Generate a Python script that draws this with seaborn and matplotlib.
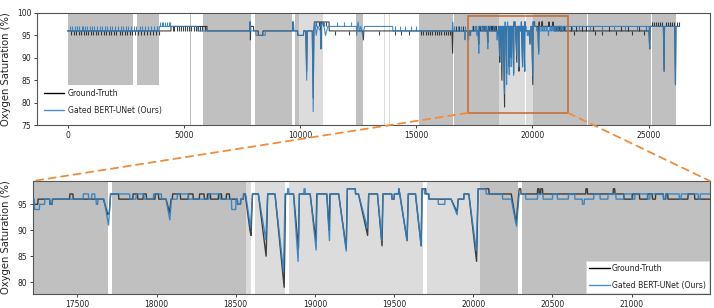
import numpy as np
import pandas as pd
import seaborn as sns
import matplotlib.pyplot as plt
from matplotlib.patches import Rectangle, ConnectionPatch
from matplotlib.lines import Line2D

# ---- data (x = sample index, y = SpO2 %) ----

# ground-truth keypoints (x, y)
gt_points = [
    (0, 96), (4450, 96), (4451, 97), (6000, 97), (6001, 96),
    (7830, 96), (7840, 98), (7860, 98), (7870, 94), (7880, 97), (8000, 97), (8010, 96),
    (8200, 96), (8210, 95), (8400, 95), (8410, 96),
    (9680, 96), (9690, 98), (9720, 98), (9730, 96), (9900, 96), (9910, 95), (10150, 95), (10160, 96),
    (10250, 96), (10290, 87), (10310, 96),
    (10530, 96), (10570, 81), (10600, 96), (10620, 98), (10880, 98), (10900, 92), (10920, 98),
    (11250, 98), (11260, 96), (12700, 96), (12730, 94), (12750, 96),
    (16540, 96), (16570, 91), (16590, 96),
    # zoomed window
    (17220, 96), (17222, 95), (17250, 95), (17252, 96), (17325, 96), (17327, 95), (17341, 95), (17343, 96),
    (17451, 96), (17453, 97), (17472, 97), (17474, 96),
    (17665, 96), (17692, 93), (17702, 93.5), (17710, 97), (17760, 97), (17762, 96),
    (17850, 96), (17852, 97), (17880, 97), (17882, 96), (17915, 96), (17917, 97), (17935, 97), (17937, 96),
    (17990, 96), (17992, 97), (18012, 97), (18014, 96),
    (18060, 96), (18082, 93.4), (18092, 96),
    (18100, 96), (18102, 97), (18150, 97), (18152, 96), (18200, 96), (18202, 97), (18230, 97), (18232, 96),
    (18270, 96), (18272, 97), (18300, 97), (18302, 96), (18320, 96), (18322, 97), (18340, 97), (18342, 96),
    (18390, 96), (18392, 97), (18410, 97), (18412, 96), (18440, 96), (18442, 97), (18460, 97), (18462, 96),
    (18510, 96), (18512, 95), (18530, 95), (18532, 96), (18548, 96), (18550, 97), (18560, 97),
    (18590, 90), (18597, 89), (18606, 97),
    (18643, 97), (18692, 85), (18702, 97), (18748, 97), (18806, 79), (18815, 97),
    (18865, 97), (18896, 86.5), (18902, 97), (18970, 97), (19006, 88), (19012, 97),
    (19075, 97), (19090, 90), (19095, 97), (19150, 97), (19198, 86.5), (19205, 98), (19255, 98), (19257, 97),
    (19275, 97), (19333, 89), (19340, 97), (19395, 97), (19424, 87), (19430, 97),
    (19485, 97), (19487, 96), (19500, 96), (19502, 97), (19528, 97), (19530, 98), (19536, 97),
    (19582, 88), (19590, 97), (19635, 97), (19671, 87), (19677, 98), (19700, 98), (19702, 97),
    (19719, 97), (19721, 96), (19860, 96), (19898, 93.5), (19905, 96), (19940, 96), (19942, 97),
    (19972, 97), (20021, 84), (20031, 98), (20098, 98), (20100, 97), (20240, 97), (20271, 91.4),
    (20290, 98), (20300, 98), (20302, 97),
    (20405, 97), (20407, 98), (20415, 98), (20417, 97), (20425, 97), (20427, 98), (20437, 98), (20439, 97),
    (20710, 97), (20712, 98), (20720, 98), (20722, 97), (20883, 97), (20885, 98), (20893, 98), (20895, 97),
    (20950, 97), (20952, 96), (21005, 96), (21007, 97), (21049, 97), (21051, 96),
    (21100, 96), (21102, 97), (21130, 97), (21132, 96), (21150, 96), (21152, 97), (21200, 97), (21202, 96),
    (21215, 96), (21217, 97), (21228, 97), (21230, 96), (21355, 96), (21357, 97), (21397, 97), (21399, 96),
    (21500, 96),
    # after the window
    (25020, 96), (25050, 92), (25070, 97), (25640, 97), (25670, 87), (25690, 97),
    (26130, 97), (26160, 84), (26180, 97), (26330, 97),
]

# prediction keypoints (x, y)
pred_points = [
    (0, 96), (3940, 96), (3950, 97), (5600, 97), (5610, 96),
    (7830, 96), (7840, 98), (7860, 98), (7875, 96), (8100, 96), (8110, 95), (8500, 95), (8510, 96),
    (9680, 96), (9690, 98), (9720, 98), (9730, 96), (9900, 96), (9910, 95), (10150, 95), (10160, 96),
    (10250, 96), (10290, 85), (10310, 96),
    (10530, 96), (10570, 78), (10600, 96), (10640, 98), (10700, 95), (10760, 97), (10880, 96),
    (10900, 92), (10920, 97), (11000, 98), (11100, 95), (11200, 97),
    (12430, 97), (12440, 95), (12500, 98), (12560, 96), (12620, 97), (12700, 95), (12780, 97),
    (13990, 97), (14000, 96), (16560, 96), (16570, 98), (16600, 96), (17080, 96), (17100, 94), (17120, 96),
    # zoomed window
    (17220, 96), (17228, 96), (17230, 94), (17260, 94), (17262, 95), (17293, 95), (17295, 96),
    (17325, 96), (17327, 95), (17341, 95), (17343, 96),
    (17536, 96), (17538, 97), (17570, 97), (17572, 96), (17590, 96), (17592, 97), (17610, 97), (17612, 96),
    (17618, 96), (17620, 95), (17628, 95), (17630, 96),
    (17668, 96), (17697, 91), (17710, 97), (17830, 97), (17832, 96), (17870, 96), (17872, 97), (17920, 97),
    (17922, 96), (17980, 96), (17982, 97), (18030, 97), (18032, 96),
    (18060, 96), (18084, 92), (18094, 96), (18130, 96), (18132, 97), (18200, 97), (18202, 96),
    (18330, 96), (18332, 97), (18400, 97), (18402, 96),
    (18473, 96), (18475, 94), (18500, 94), (18502, 96), (18510, 96), (18512, 95), (18530, 95), (18532, 96),
    (18548, 96), (18550, 97), (18562, 97), (18594, 90.5), (18606, 97),
    (18643, 97), (18690, 88.2), (18702, 97), (18748, 97), (18802, 82), (18812, 97),
    (18826, 97), (18828, 98), (18834, 98), (18836, 97), (18865, 97), (18894, 84), (18902, 97),
    (18930, 97), (18932, 98), (18938, 98), (18940, 97), (18970, 97), (19008, 86.2), (19014, 97),
    (19075, 97), (19092, 88), (19098, 97), (19150, 97), (19198, 86), (19205, 98), (19255, 98), (19257, 97),
    (19275, 97), (19331, 90.5), (19340, 97), (19395, 97), (19422, 88), (19430, 97),
    (19485, 97), (19487, 96), (19500, 96), (19502, 97), (19528, 97), (19530, 98), (19536, 97),
    (19582, 88), (19590, 97), (19635, 97), (19671, 87), (19677, 98), (19690, 98), (19692, 97),
    (19719, 97), (19721, 96), (19778, 96), (19780, 95), (19820, 95), (19822, 96),
    (19860, 96), (19898, 93), (19905, 96), (19940, 96), (19942, 97), (19972, 97), (20019, 86),
    (20031, 98), (20080, 98), (20082, 97), (20184, 97), (20186, 96), (20240, 96), (20273, 90.8),
    (20290, 97), (20330, 97), (20332, 96), (20405, 96), (20407, 97), (20440, 97), (20442, 96),
    (20500, 96), (20502, 97), (20530, 97), (20532, 96), (20600, 96), (20602, 97), (20640, 97), (20642, 96),
    (20688, 96), (20690, 95), (20700, 95), (20702, 96), (20760, 96), (20762, 97), (20800, 97), (20802, 96),
    (20850, 96), (20852, 97), (20900, 97), (20902, 96), (20950, 96), (20952, 97), (21000, 97), (21002, 96),
    (21020, 96), (21022, 97), (21100, 97), (21102, 96), (21115, 96), (21117, 97), (21200, 97), (21202, 96),
    (21215, 96), (21217, 97), (21300, 97), (21302, 96), (21312, 96), (21314, 97), (21420, 97), (21422, 96),
    (21432, 96), (21434, 97), (21500, 97),
    # after the window
    (25020, 97), (25050, 92), (25070, 97), (25640, 97), (25670, 87), (25690, 97),
    (26130, 97), (26160, 84), (26180, 97), (26330, 97),
]

# short one-sample blips only visible in the overview (x positions)
gt_blips_95 = [150, 260, 380, 470, 560, 700, 790, 880, 1010, 1100, 1230, 1320, 1450, 1560, 1650,
               1780, 1870, 1990, 2100, 2240, 2330, 2450, 2560, 2690, 2780, 2900, 3050, 3180, 3300,
               3420, 3560, 3680, 3800, 3920, 11500, 12100, 13400, 14100, 14350, 14700,
               15200, 15310, 15420, 15500, 15600, 15690, 15800, 15880, 15990, 16080, 16180,
               16270, 16360, 16450, 21800, 22700, 23010, 23600, 24300, 24800]
gt_blips_96 = [4520, 4600, 4700, 4790, 4870, 4980, 5050, 5150, 5240, 5330, 5420, 5530, 5610,
               5700, 5800, 5900]
gt_blips_97 = [16700, 16850, 17000, 21650, 21900, 22150, 22300, 22600, 23300, 23800, 24100,
               24600, 24900]
gt_blips_98 = [10700, 10800, 11000, 11100, 25150, 25230, 25320, 25400, 25480, 25560, 25760,
               25850, 25930, 26000, 26080, 26230, 26300]
pred_blips_97 = [100, 200, 310, 420, 500, 610, 680, 750, 840, 960, 1050, 1150, 1270, 1380, 1500,
                 1600, 1700, 1820, 1920, 2040, 2150, 2280, 2400, 2500, 2620, 2730, 2850, 2960,
                 3100, 3220, 3350, 3480, 3600, 3720, 3850, 14100, 14300, 14500, 14800, 15000,
                 16650, 16800, 16950, 17100]
pred_blips_98 = [3980, 4050, 4120, 4200, 4280, 4350, 4420, 10680, 10850, 11050, 11600, 11900, 12200]
pred_blips_96 = [21700, 22000, 22500, 23000, 23500, 24000, 24500, 24900]

# shaded intervals (start, end)
dark_partial = [(0, 2820), (3000, 3930)]
dark_spans = [(5260, 5310), (5830, 7880), (8080, 9660), (9770, 9960), (10300, 10450),
              (12400, 12720), (15140, 16570), (16640, 17692), (17717, 18563), (18715, 18740),
              (19232, 19285), (20045, 20285), (20308, 22000), (22030, 22350), (22380, 25120),
              (25160, 26180)]
light_spans = [(9960, 10980), (13630, 13660), (13850, 13880), (18563, 18595), (18620, 18810),
               (18835, 19682), (19707, 20045)]

gt_df = pd.DataFrame(gt_points, columns=["x", "y"])
pred_df = pd.DataFrame(pred_points, columns=["x", "y"])

sns.set_style("ticks")
plt.rcParams['font.family'] = ['DejaVu Sans']

dark_c = "#c0c0c0"
light_c = "#dcdcdc"
gt_c = "#222222"
pred_c = "#2f7fc1"

fig = plt.figure(figsize=(7.14, 3.08), dpi=100)
ax1 = fig.add_axes([37 / 714, 1 - 125 / 308, 673 / 714, 112 / 308])
ax2 = fig.add_axes([33 / 714, 14 / 308, 677 / 714, 113 / 308])

for ax in (ax1, ax2):
    for a, b in dark_partial:
        ax.axvspan(a, b, ymin=0.36, ymax=1, color=dark_c, lw=0, zorder=0)
    for a, b in dark_spans:
        ax.axvspan(a, b, color=dark_c, lw=0, zorder=0)
    for a, b in light_spans:
        ax.axvspan(a, b, color=light_c, lw=0, zorder=0)

# overview blips
ax1.vlines(gt_blips_95, 95, 96, color=gt_c, lw=0.8, alpha=0.85, zorder=2)
ax1.vlines(gt_blips_96, 96, 97, color=gt_c, lw=0.8, alpha=0.85, zorder=2)
ax1.vlines(gt_blips_97, 96, 97, color=gt_c, lw=0.8, alpha=0.85, zorder=2)
ax1.vlines(gt_blips_98, 97, 98, color=gt_c, lw=0.8, alpha=0.85, zorder=2)
ax1.vlines(pred_blips_97, 96, 97, color=pred_c, lw=0.8, alpha=0.9, zorder=3)
ax1.vlines(pred_blips_98, 97, 98, color=pred_c, lw=0.8, alpha=0.9, zorder=3)
ax1.vlines(pred_blips_96, 96, 97, color=pred_c, lw=0.8, alpha=0.9, zorder=3)

for ax, lw in ((ax1, 0.8), (ax2, 1.0)):
    sns.lineplot(data=gt_df, x="x", y="y", ax=ax, color=gt_c, lw=lw, alpha=0.85,
                 estimator=None, sort=False, zorder=2)
    sns.lineplot(data=pred_df, x="x", y="y", ax=ax, color=pred_c, lw=lw, alpha=0.9,
                 estimator=None, sort=False, zorder=3)

ax1.set_xlim(-1316, 27646)
ax1.set_ylim(75, 100)
ax1.set_xticks(range(0, 25001, 5000))
ax1.set_yticks(range(75, 101, 5))

ax2.set_xlim(17220, 21495)
ax2.set_ylim(77.7, 99.5)
ax2.set_xticks(range(17500, 21001, 500))
ax2.set_yticks([80, 85, 90, 95])

handles = [Line2D([], [], color="black", lw=1.0),
           Line2D([], [], color="#4a8fd3", lw=1.0)]
labels = ["Ground-Truth", "Gated BERT-UNet (Ours)"]

ax1.legend(handles, labels, loc="lower left", frameon=False, fontsize=5.6,
           handlelength=2.6, handletextpad=0.5, labelspacing=1.0,
           bbox_to_anchor=(0.0, 0.03))
leg2 = ax2.legend(handles, labels, loc="lower right", frameon=True, fontsize=5.6,
                  handlelength=2.6, handletextpad=0.3, labelspacing=1.0,
                  borderaxespad=0.15, framealpha=1.0, fancybox=False)
leg2.get_frame().set_edgecolor("#dddddd")
leg2.get_frame().set_linewidth(0.6)

for ax, lx in ((ax1, -0.039), (ax2, -0.033)):
    ax.set_xlabel("")
    ax.set_ylabel("Oxygen Saturation (%)", fontsize=7.2)
    ax.yaxis.set_label_coords(lx, 0.5)
    ax.tick_params(labelsize=5.5, length=2.5, width=0.6, pad=1.5, colors="#222222")
    for s in ax.spines.values():
        s.set_color("#555555")
        s.set_linewidth(0.8)

# zoom box and connectors
ax1.add_patch(Rectangle((17220, 77.7), 4320, 21.6, fill=False, ec="#c8692a", lw=1.1, zorder=5))
for xa, xb in ((17220, 0), (21540, 1)):
    con = ConnectionPatch(xyA=(xa, 77.7), coordsA=ax1.transData,
                          xyB=(xb, 1), coordsB=ax2.transAxes,
                          color="#f08c3c", lw=1.3, ls=(0, (4, 3)))
    fig.add_artist(con)

fig.savefig("out.png", dpi=100)
